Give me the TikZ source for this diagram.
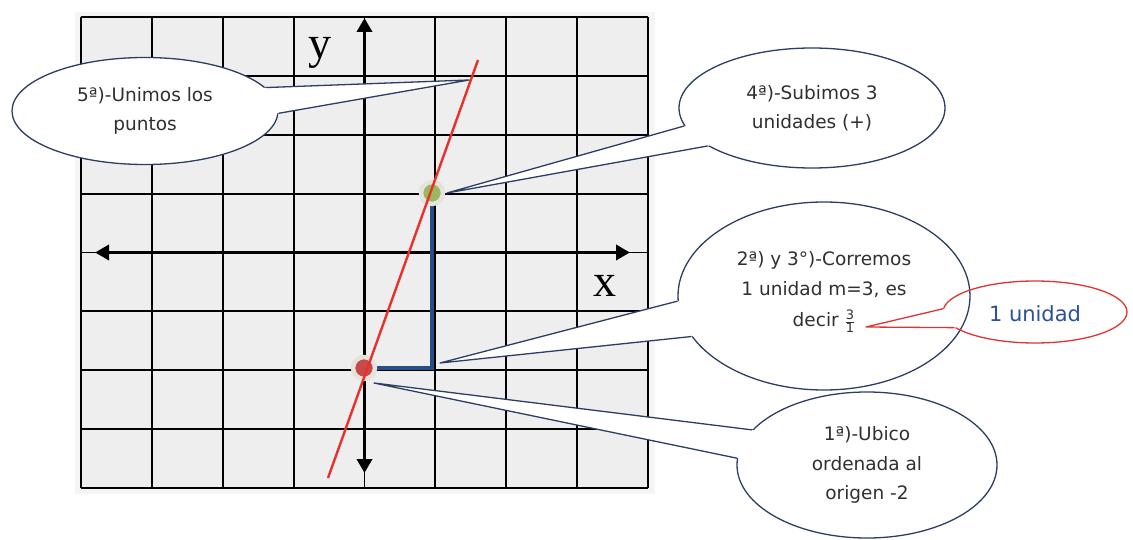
\documentclass[tikz,border=0pt]{standalone}
\usepackage{fontspec}
\usepackage{amsmath}
\setmainfont{DejaVu Sans}
\newfontfamily\axfont{Liberation Serif}
\usetikzlibrary{arrows.meta,shapes.geometric,calc}
\definecolor{navy}{HTML}{2C3E64}
\definecolor{gridbg}{HTML}{EEEEEE}
\definecolor{shadowbg}{HTML}{F5F5F5}
\definecolor{bluepath}{HTML}{234F82}
\definecolor{redline}{HTML}{E8312A}
\definecolor{redpt}{HTML}{C64A4A}
\definecolor{greenpt}{HTML}{9AB860}
\definecolor{halo}{HTML}{E6E2DE}
\definecolor{txt}{HTML}{303030}
\definecolor{unitblue}{HTML}{2A4F9C}
\definecolor{calloutred}{HTML}{E03434}
\newcommand\myfrac[2]{\ensuremath{\genfrac{}{}{0.7pt}{}{\mbox{\fontsize{13}{13}\selectfont #1}}{\mbox{\fontsize{13}{13}\selectfont #2}}}}
% tail: node, angle1, angle2, tip, colour
\newcommand\mytail[5]{%
  \fill[white] (#1.#2) -- (#4) -- (#1.#3) -- ($(#1.#3)!0.06!(#1.center)$) -- ($(#1.#2)!0.06!(#1.center)$) -- cycle;
  \draw[tailline, draw=#5] (#1.#2) -- (#4) -- (#1.#3);}
\tikzset{
  gridline/.style={line width=1.9pt, black},
  axis/.style={line width=3.5pt, black, {Triangle[length=14pt,width=15pt]}-{Triangle[length=14pt,width=15pt]}},
  stepline/.style={line width=4.5pt, bluepath, line join=miter},
  slopeline/.style={line width=2.4pt, redline},
  ptmark/.style={circle, draw=halo, line width=4.5pt, minimum size=22pt, inner sep=0pt},
  axlabel/.style={font=\axfont\fontsize{46}{46}\selectfont, anchor=base, text=black, inner sep=0pt},
  bubble/.style={ellipse, draw=navy, fill=white, line width=1.3pt, inner sep=0pt, align=center, text=txt,
                 font=\fontsize{18.5}{29.5}\selectfont},
  redbubble/.style={ellipse, draw=calloutred, line width=1.3pt, inner sep=0pt, text=unitblue,
                 font=\fontsize{21}{24}\selectfont},
  tailline/.style={line width=1.3pt, line join=round},
}
\begin{document}
\begin{tikzpicture}[x=1pt,y=-1pt]
\useasboundingbox (0,0) rectangle (1133,540);
% grid
\fill[shadowbg] (75,12) rectangle (655,494);
\fill[gridbg] (81,17) rectangle (648,488);
\foreach \i in {0,...,8} {
  \draw[gridline] ({81+\i*70.875},17) -- ({81+\i*70.875},488);
  \draw[gridline] (81,{17+\i*58.875}) -- (648,{17+\i*58.875});
}
% axes
\coordinate (xl) at (95,252.5);
\coordinate (xr) at (630,252.5);
\coordinate (yt) at (364.5,18);
\coordinate (yb) at (364.5,473);
\draw[axis] (xl) -- (xr);
\draw[axis] (yb) -- (yt);
\node[axlabel] (ylab) at (320,59) {y};
\node[axlabel] (xlab) at (605,297) {x};
% step path
\coordinate (pA) at (364,368);
\coordinate (corner) at (432,368);
\coordinate (pB) at (432,193);
\draw[stepline] (pA) -- (corner) -- (pB);
\node[ptmark, fill=redpt] (p1) at (pA) {};
\node[ptmark, fill=greenpt] (p2) at (pB) {};
% slope line
\coordinate (r1) at (328,478);
\coordinate (r2) at (478,60);
\draw[slopeline] (r1) -- (r2);
% callout tips
\coordinate (t5) at (469,80);
\coordinate (t4) at (447,193);
\coordinate (t23) at (440,363);
\coordinate (t1) at (374,383);
\coordinate (tr) at (866,327);
% callouts
\node[bubble, minimum width=266pt, minimum height=107pt] (c5) at (145,111) {5ª)-Unimos los\\puntos};
\mytail{c5}{11}{-1}{t5}{navy}
\node[bubble, minimum width=266pt, minimum height=120pt] (c4) at (812,108) {4ª)-Subimos 3\\unidades (+)};
\mytail{c4}{188.5}{200}{t4}{navy}
\node[bubble, minimum width=292pt, minimum height=188pt] (c23) at (824,296) {2ª) y 3°)-Corremos\\1 unidad m=3, es\\[2pt]decir \myfrac{3}{1}\rule[-14pt]{0pt}{0pt}};
\mytail{c23}{182.7}{197.6}{t23}{navy}
\node[bubble, minimum width=260pt, minimum height=146pt] (c1) at (867,465) {1ª)-Ubico\\ordenada al\\origen -2};
\mytail{c1}{163.9}{177.7}{t1}{navy}
\node[redbubble, minimum width=184pt, minimum height=62pt] (cr) at (1035,312) {\rule{0pt}{20pt}1 unidad};
\mytail{cr}{178}{191}{tr}{calloutred}
\end{tikzpicture}
\end{document}
